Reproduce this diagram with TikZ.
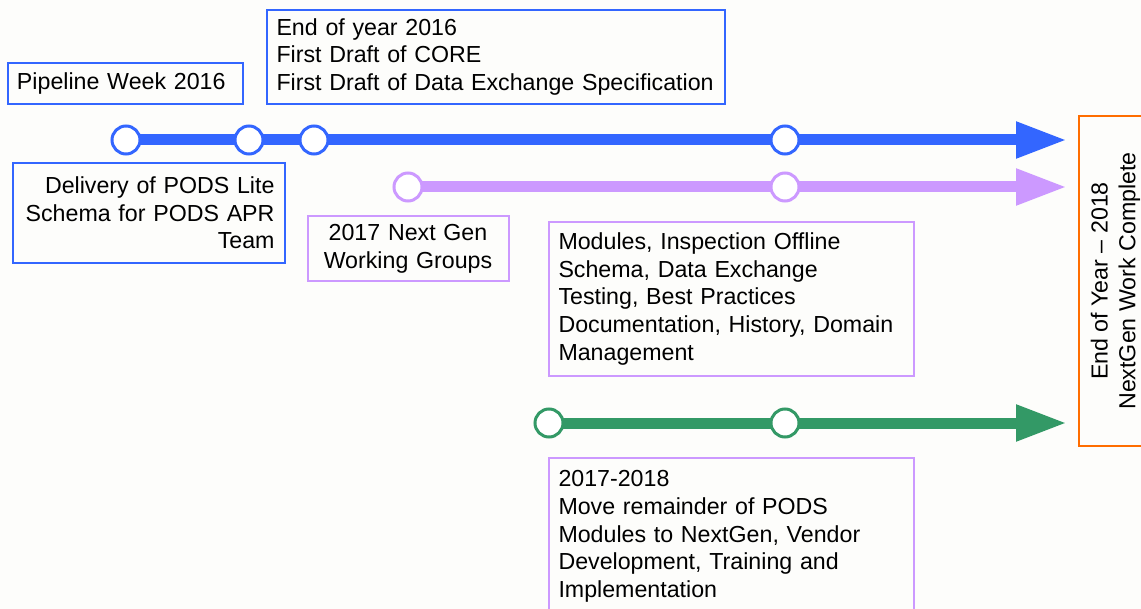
\documentclass[tikz,border=0pt]{standalone}
\usepackage{fontspec}
\setmainfont{Liberation Sans}
\usetikzlibrary{arrows.meta}
\definecolor{tlblue}{RGB}{51,102,255}
\definecolor{tlpurple}{RGB}{204,153,255}
\definecolor{tlgreen}{RGB}{51,153,102}
\definecolor{tlorange}{RGB}{255,109,0}
\definecolor{paper}{RGB}{253,253,251}
\tikzset{
  track/.style={line width=5.5pt, -{Triangle[length=25.5pt,width=17pt]}},
  dot/.style={circle, draw, line width=1.5pt, fill=white, minimum size=14pt, inner sep=0pt},
  note/.style={draw, line width=1pt, outer sep=0pt, anchor=north west, inner ysep=0pt},
  endbox/.style={draw=tlorange, line width=1pt, rotate=90, align=center,
    minimum width=165pt, minimum height=36.5pt, inner sep=0pt}
}
\begin{document}
\begin{tikzpicture}[x=0.5pt, y=-0.5pt, font=\fontsize{11.6pt}{13.85pt}\selectfont]
\useasboundingbox (0,0) rectangle (1141,609);
\clip (0,0) rectangle (1141,609);
\fill [paper] (0,0) rectangle (1141,609);

% blue track
\coordinate (b1) at (126,140);
\coordinate (b2) at (249,140);
\coordinate (b3) at (314,140);
\coordinate (b4) at (785,140);
\coordinate (bend) at (1067,140);
\draw [track, tlblue] (b1) -- (bend);
\foreach \c in {b1, b2, b3, b4} {%
    \node [dot, draw=tlblue] (dot\c) at (\c) {};
}

% purple track
\coordinate (p1) at (408,187);
\coordinate (p2) at (785,187);
\coordinate (pend) at (1067,187);
\draw [track, tlpurple] (p1) -- (pend);
\foreach \c in {p1, p2} {%
    \node [dot, draw=tlpurple] (dot\c) at (\c) {};
}

% green track
\coordinate (g1) at (549,423);
\coordinate (g2) at (785,423);
\coordinate (gend) at (1067,423);
\draw [track, tlgreen] (g1) -- (gend);
\foreach \c in {g1, g2} {%
    \node [dot, draw=tlgreen] (dot\c) at (\c) {};
}

\node [note, draw=tlblue, inner xsep=4.5pt, text width=108.5pt, minimum height=20.5pt, align=left]
    (pipeline) at (8,63) {Pipeline Week 2016};
\node [note, draw=tlblue, inner xsep=4.75pt, text width=219.5pt, minimum height=47pt, align=left]
    (draft) at (267,10) {End of year 2016\\First Draft of CORE\\First Draft of Data Exchange Specification};
\node [note, draw=tlblue, inner xsep=5.25pt, text width=125.5pt, minimum height=50pt, align=right]
    (lite) at (13,163) {Delivery of PODS Lite\\Schema for PODS APR\\Team};
\node [note, draw=tlpurple, inner xsep=4.25pt, text width=92pt, minimum height=32.5pt, align=center]
    (groups) at (307.5,216) {2017 Next Gen\\Working Groups};
\node [note, draw=tlpurple, inner xsep=4.75pt, text width=173pt, minimum height=77pt, align=left]
    (modules) at (549,222) {Modules, Inspection Offline\\Schema, Data Exchange\\Testing, Best Practices\\Documentation, History, Domain\\Management};
\node [note, draw=tlpurple, inner xsep=4.75pt, text width=173pt, minimum height=78.5pt, align=left]
    (remainder) at (549,458) {2017-2018\\Move remainder of PODS\\Modules to NextGen, Vendor\\Development, Training and\\Implementation};
\node [endbox] (complete) at (1115.5,281) {End of Year – 2018\\NextGen Work Complete};
\end{tikzpicture}
\end{document}
